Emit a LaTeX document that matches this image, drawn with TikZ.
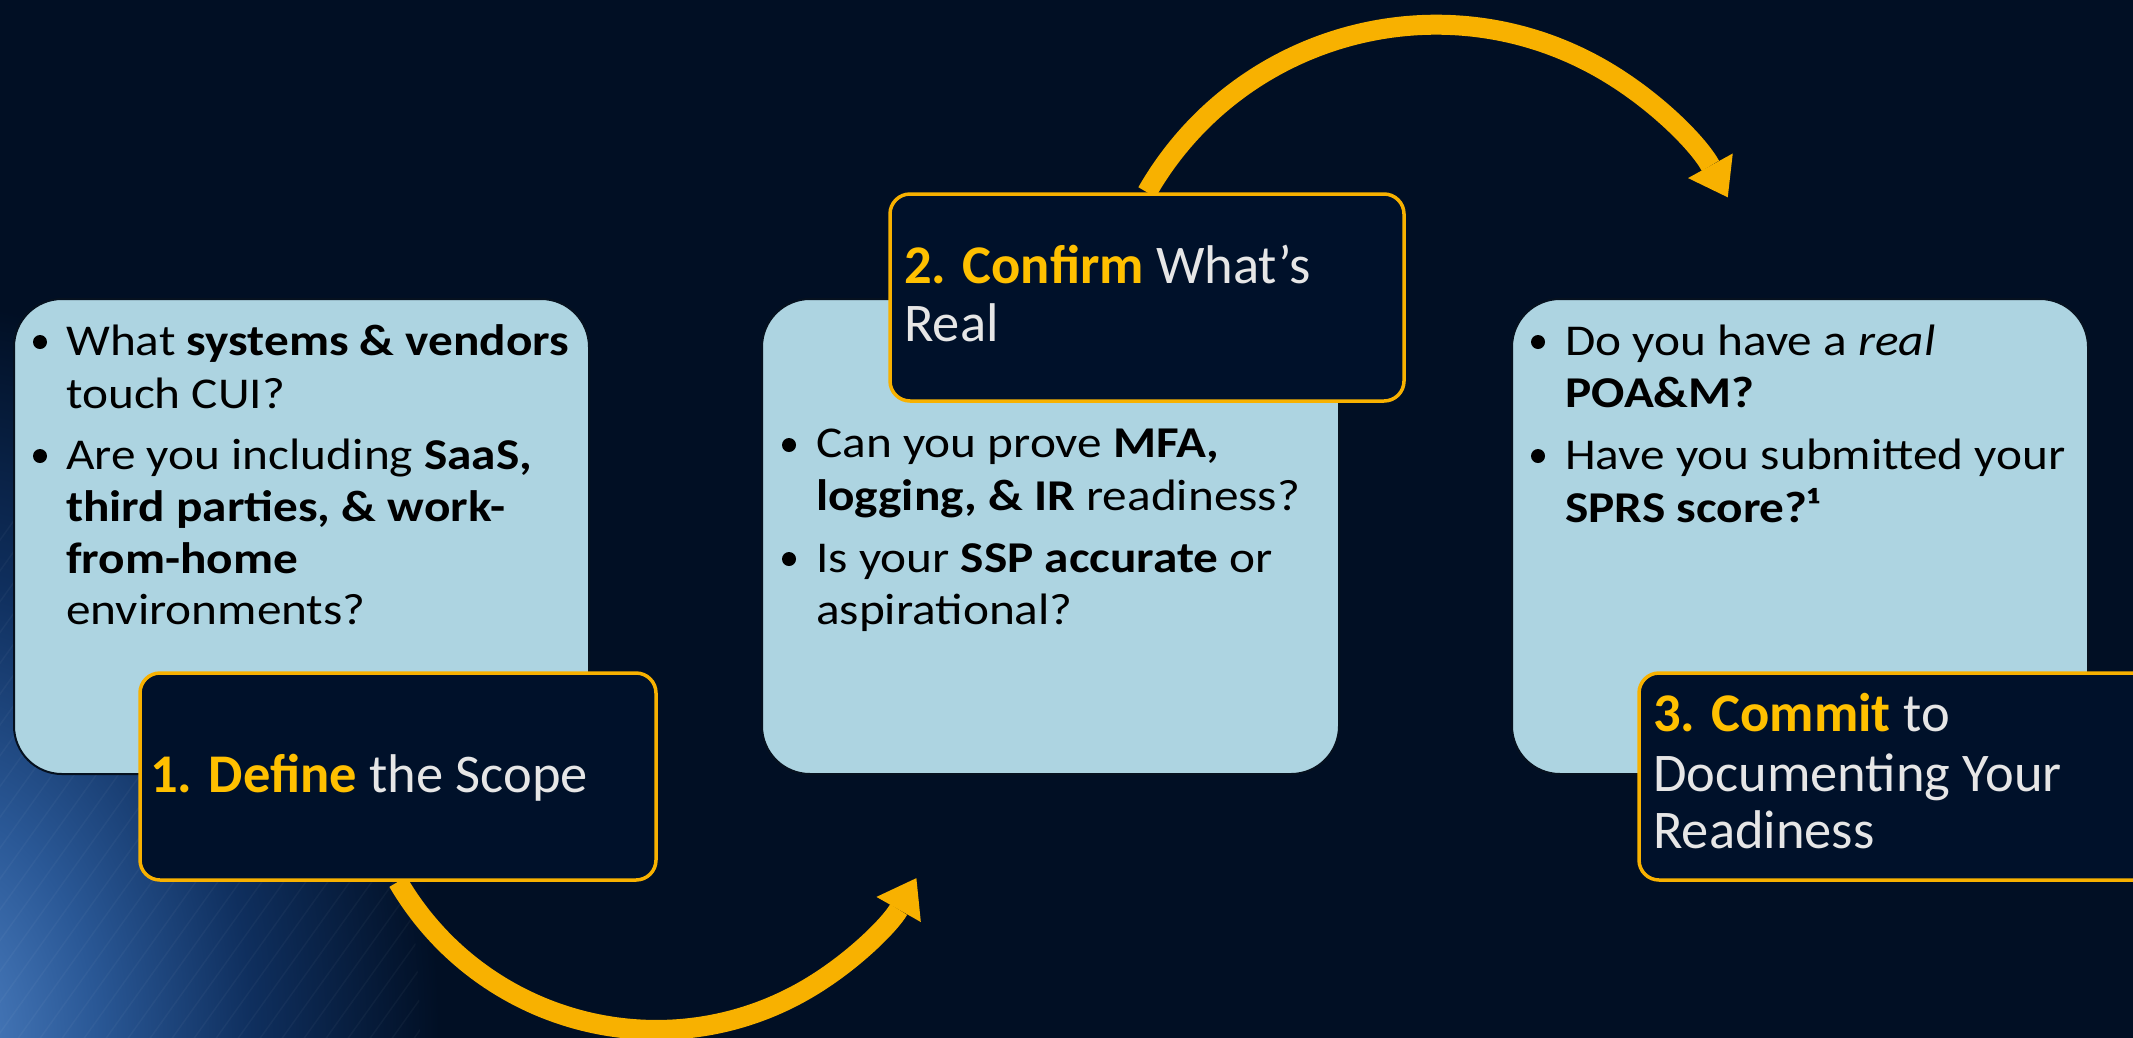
\documentclass[tikz,border=0pt]{standalone}
\usepackage{fontspec}
\setmainfont{Carlito}
\newfontfamily\widefam{Carlito}[FakeStretch=1.12]
\usetikzlibrary{arrows.meta}
\definecolor{bgc}{HTML}{010F24}
\definecolor{boxblue}{HTML}{ADD4E1}
\definecolor{boxedge}{HTML}{06111F}
\definecolor{labfill}{HTML}{00112A}
\definecolor{gold}{HTML}{F8B100}
\definecolor{goldtxt}{HTML}{FFC000}
\definecolor{labtxt}{HTML}{E6E6E6}
\definecolor{glowA}{HTML}{4F82C4}
\definecolor{glowB}{HTML}{2A5896}
\definecolor{glowC}{HTML}{0F2F5E}
\pgfdeclareradialshading{glow}{\pgfpoint{0bp}{0bp}}{color(0bp)=(glowA); color(5bp)=(glowB); color(10bp)=(glowC); color(16bp)=(bgc); color(50bp)=(bgc)}
\pgfdeclarelayer{back}
\pgfsetlayers{back,main}
\tikzset{
  bluebox/.style={draw=boxedge, line width=2pt, fill=boxblue, rounded corners=48pt, inner sep=0pt},
  labbox/.style={draw=gold, line width=3.5pt, fill=labfill, rounded corners=20pt, inner sep=0pt},
  btxt/.style={inner sep=0pt, anchor=base west, text=black, font=\widefam\fontsize{44}{53}\selectfont},
  bdot/.style={circle, fill=black, inner sep=0pt, minimum size=14pt},
  ltxt/.style={inner sep=0pt, anchor=base west, text=labtxt, font=\fontsize{54.5}{60}\selectfont},
  arr/.style={draw=gold, line width=20pt, -{Triangle[length=36pt,width=51pt,line width=0pt]}},
}
\newcommand\hl[1]{\textcolor{goldtxt}{\textbf{#1}}}
\begin{document}
\begin{tikzpicture}[x=1pt,y=-1pt]
\useasboundingbox (0,0) rectangle (2133,1037);
\begin{pgfonlayer}{back}
  \fill[bgc] (-10,-10) rectangle (2145,1050);
  \shade[shading=glow] (-60,1040) ellipse [x radius=780, y radius=1150];
  \begin{scope}
    \clip (-60,1040) ellipse [x radius=480, y radius=700];
    \foreach \i in {0,...,40}{
      \draw[white, opacity=0.035, line width=1.5pt] (-400+22*\i,1100) -- ++(500,-700);
    }
  \end{scope}
\end{pgfonlayer}

% blue content boxes
\node[bluebox, minimum width=575pt, minimum height=475pt] (box1) at (301.5,536.5) {};
\node[bluebox, minimum width=577pt, minimum height=475pt] (box2) at (1050.5,536.5) {};
\node[bluebox, minimum width=576pt, minimum height=475pt] (box3) at (1800,536.5) {};

% box 1 text
\node[bdot] (b11) at (40,342) {};
\node[btxt] (t11) at (66,355) {What \textbf{systems \& vendors}};
\node[btxt] (t12) at (66,408) {touch CUI?};
\node[bdot] (b12) at (40,456) {};
\node[btxt] (t13) at (66,469) {Are you including \textbf{SaaS,}};
\node[btxt] (t14) at (66,521) {\textbf{third parties, \& work-}};
\node[btxt] (t15) at (66,573) {\textbf{from-home}};
\node[btxt] (t16) at (66,624) {environments?};

% box 2 text
\node[bdot] (b21) at (789,445) {};
\node[btxt] (t21) at (816,457) {Can you prove \textbf{MFA,}};
\node[btxt] (t22) at (816,510) {\textbf{logging, \& IR} readiness?};
\node[bdot] (b22) at (789,559) {};
\node[btxt] (t23) at (816,572) {Is your \textbf{SSP accurate} or};
\node[btxt] (t24) at (816,624) {aspirational?};

% box 3 text
\node[bdot] (b31) at (1538,342) {};
\node[btxt] (t31) at (1565,355) {Do you have a \textit{real}};
\node[btxt] (t32) at (1565,407) {\textbf{POA\&M?}};
\node[bdot] (b32) at (1538,456) {};
\node[btxt] (t33) at (1565,469) {Have you submitted your};
\node[btxt] (t34) at (1565,522) {\textbf{SPRS score?¹}};

% label boxes
\node[labbox, minimum width=516pt, minimum height=207pt] (lab1) at (398,776.5) {};
\node[labbox, minimum width=514pt, minimum height=207pt] (lab2) at (1147,297.5) {};
\node[labbox, minimum width=521pt, minimum height=207pt] (lab3) at (1899.5,776.5) {};

\node[ltxt] (l11) at (150,792) {\hl{1. Define} the Scope};
\node[ltxt] (l21) at (904,283) {\hl{2. Confirm} What’s};
\node[ltxt] (l22) at (904,341.5) {Real};
\node[ltxt] (l31) at (1653,731.6) {\hl{3. Commit} to};
\node[ltxt] (l32) at (1653,791) {Documenting Your};
\node[ltxt] (l33) at (1653,848) {Readiness};

% curved arrows
\begin{pgfonlayer}{back}
  \draw[arr] (lab1.south) arc[start angle=149.7, end angle=29.5, radius=299];
  \draw[arr] (lab2.north) arc[start angle=209.8, end angle=331.2, radius=333];
\end{pgfonlayer}
\end{tikzpicture}
\end{document}
